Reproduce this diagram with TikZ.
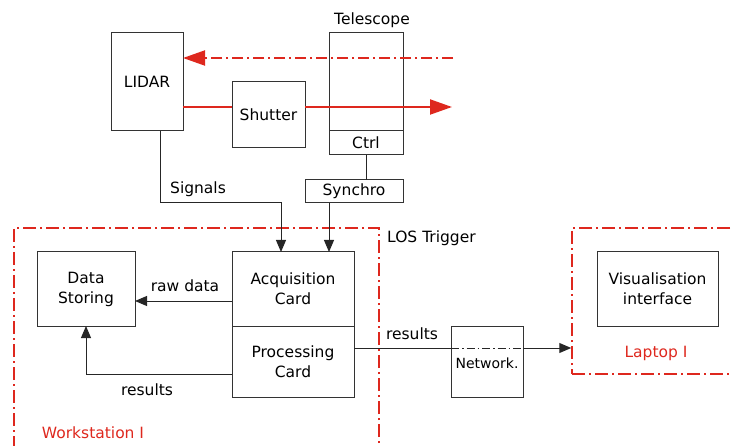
\documentclass[tikz,border=0pt]{standalone}
\usepackage{fontspec}
\setmainfont{DejaVu Sans}
\usetikzlibrary{arrows.meta}

\definecolor{beamred}{RGB}{222,40,30}

\tikzset{
  box/.style={draw=black!80, line width=1pt, rectangle, align=center, inner sep=0pt, outer sep=0pt},
  zone/.style={draw=beamred, line width=1.5pt, rectangle, dash pattern=on 13pt off 4pt on 2pt off 4pt},
  link/.style={draw=black!85, line width=1pt},
  tip/.style={-{Triangle[length=12pt,width=10pt]}},
  beam/.style={draw=beamred, line width=2pt},
  beamtip/.style={-{Triangle[length=22pt,width=15pt]}},
  lbl/.style={inner sep=0pt, font=\fontsize{15.5}{20}\selectfont}
}

\begin{document}
\begin{tikzpicture}[x=1pt, y=-1pt, every node/.style={font=\fontsize{15.5}{20}\selectfont}]
\useasboundingbox (0,0) rectangle (733,446);

% zones
\node [zone, minimum width=365pt, minimum height=235pt] (work) at (196.5,345.5) {};
\node [zone, minimum width=190pt, minimum height=146pt] (laptop) at (667,301) {};

% nodes
\node [box, minimum width=72pt, minimum height=98pt] (lidar) at (147,82) {LIDAR};
\node [box, minimum width=73pt, minimum height=66pt] (shutter) at (268.5,115) {Shutter};
\node [box, minimum width=74pt, minimum height=98pt] (tele) at (366,82) {};
\node [box, minimum width=74pt, minimum height=24pt, anchor=north] (ctrl) at (tele.south) {Ctrl};
\node [box, minimum width=98pt, minimum height=23pt] (synchro) at (354,191.5) {Synchro};
\node [box, minimum width=98pt, minimum height=74pt] (store) at (86,289) {Data\\Storing};
\node [box, minimum width=122pt, minimum height=74pt] (acq) at (293,289) {Acquisition\\Card};
\node [box, minimum width=122pt, minimum height=71pt, anchor=north] (proc) at (acq.south) {Processing\\Card};
\node [box, minimum width=72pt, minimum height=71pt] (net) at (487,361.5) {};
\node [box, minimum width=121pt, minimum height=74pt] (visu) at (657.5,289) {Visualisation\\interface};

% free ends of the beams
\coordinate (beamin) at (453,58);
\coordinate (beamout) at (452,107);

% labels
\node [lbl] (telelbl) at (372,20) {Telescope};
\node [lbl] (siglbl) at (198,189) {Signals};
\node [lbl, anchor=west] (loslbl) at (387,238) {LOS Trigger};
\node [lbl] (rawlbl) at (185,286) {raw data};
\node [lbl] (reslbl) at (147,390) {results};
\node [lbl] (netres) at (412,334) {results};
\node [lbl, font=\fontsize{14}{17}\selectfont] (netlbl) at (487,363) {Network.};
\node [lbl, text=beamred] (worklbl) at (93,433) {Workstation I};
\node [lbl, text=beamred] (laplbl) at (656,353) {Laptop I};

% beams
\draw [beam, beamtip, dash pattern=on 11pt off 4pt on 2pt off 4pt] (beamin) -- (beamin -| lidar.east);
\draw [beam] (lidar.east |- beamout) -- (shutter.west |- beamout);
\draw [beam, beamtip] (shutter.east |- beamout) -- (beamout);

% links
\draw [link] (ctrl.south) -- (synchro.north -| ctrl.south);
\draw [link, tip] (lidar.south -| 160,0) |- (281,203) -- (acq.north -| 281,0);
\draw [link, tip] (synchro.south -| 329,0) -- (acq.north -| 329,0);
\draw [link, tip] (acq.west |- 0,301) -- (store.east |- 0,301);
\draw [link, tip] (proc.west |- 0,374) -| (store.south -| 86,0);
\draw [link] (proc.east |- 0,348) -- (net.west |- 0,348);
\draw [link, dash pattern=on 8pt off 3pt on 1.5pt off 3pt, line width=0.8pt] (net.west |- 0,348) -- (net.east |- 0,348);
\draw [link, tip] (net.east |- 0,348) -- (laptop.west |- 0,348);

\end{tikzpicture}
\end{document}
